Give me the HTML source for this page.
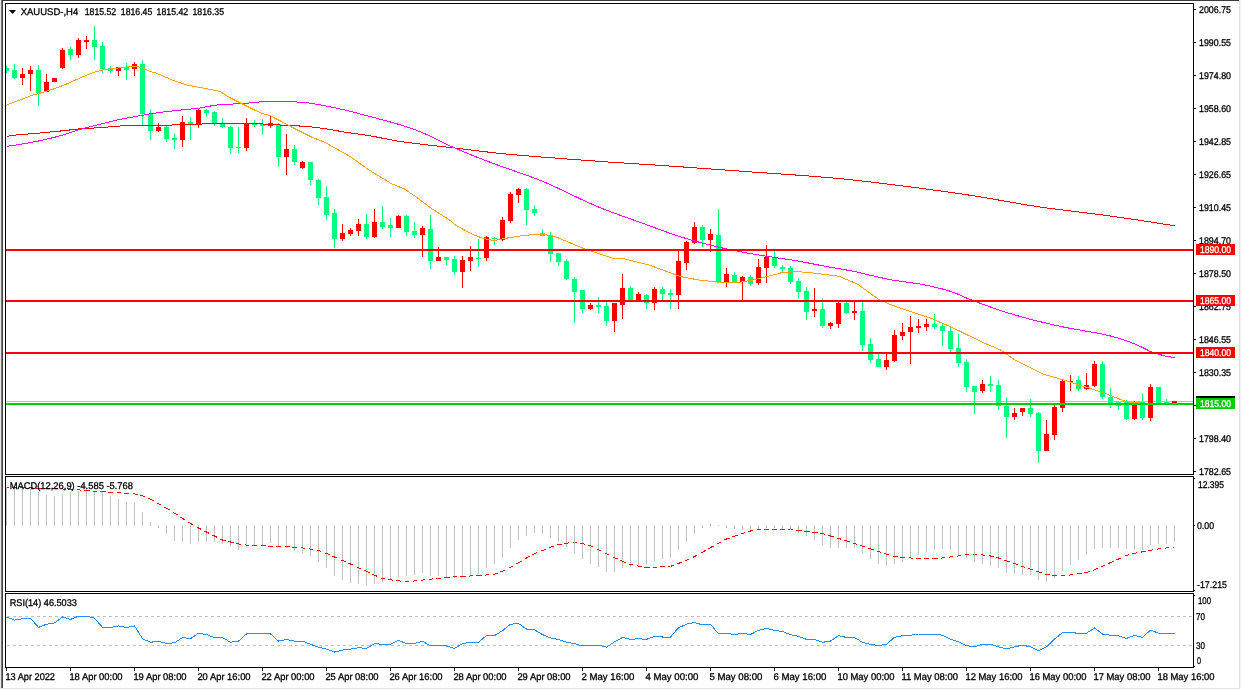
<!DOCTYPE html>
<html><head><meta charset="utf-8"><style>
html,body{margin:0;padding:0;background:#fff;width:1241px;height:689px;overflow:hidden}
svg{display:block;will-change:transform}
text{font-family:"Liberation Sans",sans-serif;text-rendering:geometricPrecision}
</style></head><body>
<svg width="1241" height="689" viewBox="0 0 1241 689">
<rect x="0" y="0" width="1241" height="689" fill="#FFFFFF"/>
<rect x="0" y="0" width="1241" height="1" fill="#3A3A3A"/>
<rect x="0" y="0" width="1" height="689" fill="#E6E6E6"/>
<rect x="1" y="0" width="1" height="688" fill="#7A7A7A"/>
<rect x="2" y="0" width="1" height="688" fill="#404040"/>
<rect x="0" y="688" width="1241" height="1" fill="#E3E3E3"/>
<rect x="1239" y="0" width="1" height="689" fill="#E0E0E0"/>
<rect x="1240" y="0" width="1" height="689" fill="#F2F2F2"/>
<g shape-rendering="crispEdges">
<clipPath id="cm"><rect x="6" y="4" width="1187" height="470"/></clipPath>
<clipPath id="cmacd"><rect x="6" y="477" width="1187" height="114"/></clipPath>
<clipPath id="crsi"><rect x="6" y="594" width="1187" height="73"/></clipPath>
<g clip-path="url(#cm)">
<rect x="6" y="401" width="1187" height="1" fill="#C0C0C0"/>
<rect x="6" y="66" width="1" height="7" fill="#00FF7F"/>
<rect x="4" y="68" width="5" height="3" fill="#00FF7F"/>
<rect x="14" y="64" width="1" height="15" fill="#00FF7F"/>
<rect x="12" y="70" width="5" height="8" fill="#00FF7F"/>
<rect x="22" y="68" width="1" height="17" fill="#FF0000"/>
<rect x="20" y="74" width="5" height="4" fill="#FF0000"/>
<rect x="30" y="66" width="1" height="25" fill="#FF0000"/>
<rect x="28" y="70" width="5" height="4" fill="#FF0000"/>
<rect x="38" y="65" width="1" height="41" fill="#00FF7F"/>
<rect x="36" y="70" width="5" height="23" fill="#00FF7F"/>
<rect x="46" y="74" width="1" height="18" fill="#FF0000"/>
<rect x="44" y="82" width="5" height="10" fill="#FF0000"/>
<rect x="54" y="78" width="1" height="4" fill="#FF0000"/>
<rect x="52" y="78" width="5" height="4" fill="#FF0000"/>
<rect x="62" y="48" width="1" height="21" fill="#FF0000"/>
<rect x="60" y="50" width="5" height="18" fill="#FF0000"/>
<rect x="70" y="47" width="1" height="13" fill="#00FF7F"/>
<rect x="68" y="49" width="5" height="6" fill="#00FF7F"/>
<rect x="78" y="38" width="1" height="20" fill="#FF0000"/>
<rect x="76" y="40" width="5" height="15" fill="#FF0000"/>
<rect x="86" y="36" width="1" height="13" fill="#FF0000"/>
<rect x="84" y="40" width="5" height="2" fill="#FF0000"/>
<rect x="94" y="26" width="1" height="34" fill="#00FF7F"/>
<rect x="92" y="40" width="5" height="7" fill="#00FF7F"/>
<rect x="102" y="42" width="1" height="31" fill="#00FF7F"/>
<rect x="100" y="46" width="5" height="23" fill="#00FF7F"/>
<rect x="110" y="66" width="1" height="7" fill="#00FF7F"/>
<rect x="108" y="68" width="5" height="3" fill="#00FF7F"/>
<rect x="118" y="67" width="1" height="9" fill="#FF0000"/>
<rect x="116" y="67" width="5" height="4" fill="#FF0000"/>
<rect x="126" y="63" width="1" height="17" fill="#00FF7F"/>
<rect x="124" y="67" width="5" height="3" fill="#00FF7F"/>
<rect x="134" y="62" width="1" height="14" fill="#FF0000"/>
<rect x="132" y="64" width="5" height="5" fill="#FF0000"/>
<rect x="142" y="60" width="1" height="65" fill="#00FF7F"/>
<rect x="140" y="64" width="5" height="50" fill="#00FF7F"/>
<rect x="150" y="109" width="1" height="31" fill="#00FF7F"/>
<rect x="148" y="114" width="5" height="17" fill="#00FF7F"/>
<rect x="158" y="123" width="1" height="9" fill="#FF0000"/>
<rect x="156" y="127" width="5" height="4" fill="#FF0000"/>
<rect x="166" y="126" width="1" height="16" fill="#00FF7F"/>
<rect x="164" y="127" width="5" height="12" fill="#00FF7F"/>
<rect x="174" y="133" width="1" height="16" fill="#00FF7F"/>
<rect x="172" y="138" width="5" height="2" fill="#00FF7F"/>
<rect x="182" y="116" width="1" height="31" fill="#FF0000"/>
<rect x="180" y="122" width="5" height="18" fill="#FF0000"/>
<rect x="190" y="117" width="1" height="23" fill="#00FF7F"/>
<rect x="188" y="122" width="5" height="2" fill="#00FF7F"/>
<rect x="198" y="108" width="1" height="20" fill="#FF0000"/>
<rect x="196" y="110" width="5" height="15" fill="#FF0000"/>
<rect x="206" y="109" width="1" height="8" fill="#00FF7F"/>
<rect x="204" y="110" width="5" height="3" fill="#00FF7F"/>
<rect x="214" y="111" width="1" height="15" fill="#00FF7F"/>
<rect x="212" y="112" width="5" height="11" fill="#00FF7F"/>
<rect x="222" y="118" width="1" height="10" fill="#00FF7F"/>
<rect x="220" y="123" width="5" height="4" fill="#00FF7F"/>
<rect x="230" y="126" width="1" height="28" fill="#00FF7F"/>
<rect x="228" y="127" width="5" height="21" fill="#00FF7F"/>
<rect x="238" y="127" width="1" height="26" fill="#00FF7F"/>
<rect x="236" y="147" width="5" height="1" fill="#00FF7F"/>
<rect x="246" y="118" width="1" height="33" fill="#FF0000"/>
<rect x="244" y="123" width="5" height="25" fill="#FF0000"/>
<rect x="254" y="120" width="1" height="7" fill="#00FF7F"/>
<rect x="252" y="123" width="5" height="2" fill="#00FF7F"/>
<rect x="262" y="119" width="1" height="16" fill="#00FF7F"/>
<rect x="260" y="124" width="5" height="2" fill="#00FF7F"/>
<rect x="270" y="116" width="1" height="12" fill="#FF0000"/>
<rect x="268" y="123" width="5" height="3" fill="#FF0000"/>
<rect x="278" y="123" width="1" height="44" fill="#00FF7F"/>
<rect x="276" y="124" width="5" height="33" fill="#00FF7F"/>
<rect x="286" y="134" width="1" height="41" fill="#FF0000"/>
<rect x="284" y="149" width="5" height="8" fill="#FF0000"/>
<rect x="294" y="145" width="1" height="20" fill="#00FF7F"/>
<rect x="292" y="149" width="5" height="13" fill="#00FF7F"/>
<rect x="302" y="161" width="1" height="8" fill="#FF0000"/>
<rect x="300" y="162" width="5" height="6" fill="#FF0000"/>
<rect x="310" y="162" width="1" height="23" fill="#00FF7F"/>
<rect x="308" y="162" width="5" height="18" fill="#00FF7F"/>
<rect x="318" y="179" width="1" height="26" fill="#00FF7F"/>
<rect x="316" y="180" width="5" height="18" fill="#00FF7F"/>
<rect x="326" y="186" width="1" height="34" fill="#00FF7F"/>
<rect x="324" y="197" width="5" height="18" fill="#00FF7F"/>
<rect x="334" y="209" width="1" height="39" fill="#00FF7F"/>
<rect x="332" y="213" width="5" height="26" fill="#00FF7F"/>
<rect x="342" y="224" width="1" height="17" fill="#FF0000"/>
<rect x="340" y="233" width="5" height="6" fill="#FF0000"/>
<rect x="350" y="228" width="1" height="8" fill="#FF0000"/>
<rect x="348" y="230" width="5" height="4" fill="#FF0000"/>
<rect x="358" y="219" width="1" height="17" fill="#FF0000"/>
<rect x="356" y="224" width="5" height="7" fill="#FF0000"/>
<rect x="366" y="214" width="1" height="25" fill="#00FF7F"/>
<rect x="364" y="224" width="5" height="13" fill="#00FF7F"/>
<rect x="374" y="209" width="1" height="29" fill="#FF0000"/>
<rect x="372" y="222" width="5" height="15" fill="#FF0000"/>
<rect x="382" y="206" width="1" height="23" fill="#00FF7F"/>
<rect x="380" y="222" width="5" height="5" fill="#00FF7F"/>
<rect x="390" y="218" width="1" height="19" fill="#00FF7F"/>
<rect x="388" y="225" width="5" height="3" fill="#00FF7F"/>
<rect x="398" y="215" width="1" height="13" fill="#FF0000"/>
<rect x="396" y="216" width="5" height="12" fill="#FF0000"/>
<rect x="406" y="215" width="1" height="21" fill="#00FF7F"/>
<rect x="404" y="216" width="5" height="16" fill="#00FF7F"/>
<rect x="414" y="222" width="1" height="16" fill="#00FF7F"/>
<rect x="412" y="231" width="5" height="4" fill="#00FF7F"/>
<rect x="422" y="226" width="1" height="31" fill="#FF0000"/>
<rect x="420" y="228" width="5" height="7" fill="#FF0000"/>
<rect x="430" y="215" width="1" height="54" fill="#00FF7F"/>
<rect x="428" y="229" width="5" height="32" fill="#00FF7F"/>
<rect x="438" y="247" width="1" height="14" fill="#FF0000"/>
<rect x="436" y="257" width="5" height="4" fill="#FF0000"/>
<rect x="446" y="257" width="1" height="8" fill="#00FF7F"/>
<rect x="444" y="257" width="5" height="3" fill="#00FF7F"/>
<rect x="454" y="256" width="1" height="19" fill="#00FF7F"/>
<rect x="452" y="259" width="5" height="13" fill="#00FF7F"/>
<rect x="462" y="256" width="1" height="32" fill="#FF0000"/>
<rect x="460" y="260" width="5" height="12" fill="#FF0000"/>
<rect x="470" y="246" width="1" height="25" fill="#FF0000"/>
<rect x="468" y="257" width="5" height="4" fill="#FF0000"/>
<rect x="478" y="239" width="1" height="28" fill="#00FF7F"/>
<rect x="476" y="258" width="5" height="1" fill="#00FF7F"/>
<rect x="486" y="236" width="1" height="25" fill="#FF0000"/>
<rect x="484" y="237" width="5" height="21" fill="#FF0000"/>
<rect x="494" y="237" width="1" height="8" fill="#00FF7F"/>
<rect x="492" y="238" width="5" height="1" fill="#00FF7F"/>
<rect x="502" y="217" width="1" height="24" fill="#FF0000"/>
<rect x="500" y="220" width="5" height="20" fill="#FF0000"/>
<rect x="510" y="192" width="1" height="31" fill="#FF0000"/>
<rect x="508" y="194" width="5" height="27" fill="#FF0000"/>
<rect x="518" y="188" width="1" height="15" fill="#FF0000"/>
<rect x="516" y="189" width="5" height="6" fill="#FF0000"/>
<rect x="526" y="188" width="1" height="37" fill="#00FF7F"/>
<rect x="524" y="189" width="5" height="21" fill="#00FF7F"/>
<rect x="534" y="205" width="1" height="11" fill="#00FF7F"/>
<rect x="532" y="209" width="5" height="4" fill="#00FF7F"/>
<rect x="542" y="229" width="1" height="7" fill="#00FF7F"/>
<rect x="540" y="233" width="5" height="3" fill="#00FF7F"/>
<rect x="550" y="232" width="1" height="30" fill="#00FF7F"/>
<rect x="548" y="235" width="5" height="19" fill="#00FF7F"/>
<rect x="558" y="253" width="1" height="13" fill="#00FF7F"/>
<rect x="556" y="253" width="5" height="9" fill="#00FF7F"/>
<rect x="566" y="259" width="1" height="21" fill="#00FF7F"/>
<rect x="564" y="261" width="5" height="18" fill="#00FF7F"/>
<rect x="574" y="277" width="1" height="46" fill="#00FF7F"/>
<rect x="572" y="279" width="5" height="13" fill="#00FF7F"/>
<rect x="582" y="290" width="1" height="23" fill="#00FF7F"/>
<rect x="580" y="290" width="5" height="19" fill="#00FF7F"/>
<rect x="590" y="303" width="1" height="7" fill="#FF0000"/>
<rect x="588" y="305" width="5" height="4" fill="#FF0000"/>
<rect x="598" y="297" width="1" height="16" fill="#00FF7F"/>
<rect x="596" y="305" width="5" height="2" fill="#00FF7F"/>
<rect x="606" y="302" width="1" height="24" fill="#00FF7F"/>
<rect x="604" y="306" width="5" height="15" fill="#00FF7F"/>
<rect x="614" y="303" width="1" height="29" fill="#FF0000"/>
<rect x="612" y="303" width="5" height="18" fill="#FF0000"/>
<rect x="622" y="274" width="1" height="45" fill="#FF0000"/>
<rect x="620" y="288" width="5" height="17" fill="#FF0000"/>
<rect x="630" y="286" width="1" height="14" fill="#00FF7F"/>
<rect x="628" y="288" width="5" height="12" fill="#00FF7F"/>
<rect x="638" y="292" width="1" height="9" fill="#FF0000"/>
<rect x="636" y="294" width="5" height="6" fill="#FF0000"/>
<rect x="646" y="294" width="1" height="15" fill="#00FF7F"/>
<rect x="644" y="295" width="5" height="8" fill="#00FF7F"/>
<rect x="654" y="287" width="1" height="23" fill="#FF0000"/>
<rect x="652" y="289" width="5" height="14" fill="#FF0000"/>
<rect x="662" y="287" width="1" height="13" fill="#00FF7F"/>
<rect x="660" y="289" width="5" height="5" fill="#00FF7F"/>
<rect x="670" y="289" width="1" height="20" fill="#00FF7F"/>
<rect x="668" y="293" width="5" height="2" fill="#00FF7F"/>
<rect x="678" y="251" width="1" height="58" fill="#FF0000"/>
<rect x="676" y="261" width="5" height="34" fill="#FF0000"/>
<rect x="686" y="241" width="1" height="29" fill="#FF0000"/>
<rect x="684" y="242" width="5" height="21" fill="#FF0000"/>
<rect x="694" y="222" width="1" height="22" fill="#FF0000"/>
<rect x="692" y="227" width="5" height="16" fill="#FF0000"/>
<rect x="702" y="225" width="1" height="22" fill="#00FF7F"/>
<rect x="700" y="227" width="5" height="13" fill="#00FF7F"/>
<rect x="710" y="229" width="1" height="23" fill="#FF0000"/>
<rect x="708" y="234" width="5" height="6" fill="#FF0000"/>
<rect x="718" y="209" width="1" height="73" fill="#00FF7F"/>
<rect x="716" y="235" width="5" height="47" fill="#00FF7F"/>
<rect x="726" y="268" width="1" height="19" fill="#FF0000"/>
<rect x="724" y="274" width="5" height="9" fill="#FF0000"/>
<rect x="734" y="272" width="1" height="11" fill="#00FF7F"/>
<rect x="732" y="275" width="5" height="8" fill="#00FF7F"/>
<rect x="742" y="276" width="1" height="24" fill="#FF0000"/>
<rect x="740" y="277" width="5" height="5" fill="#FF0000"/>
<rect x="750" y="275" width="1" height="11" fill="#00FF7F"/>
<rect x="748" y="277" width="5" height="7" fill="#00FF7F"/>
<rect x="758" y="259" width="1" height="26" fill="#FF0000"/>
<rect x="756" y="267" width="5" height="16" fill="#FF0000"/>
<rect x="766" y="245" width="1" height="38" fill="#FF0000"/>
<rect x="764" y="257" width="5" height="11" fill="#FF0000"/>
<rect x="774" y="251" width="1" height="17" fill="#00FF7F"/>
<rect x="772" y="257" width="5" height="9" fill="#00FF7F"/>
<rect x="782" y="265" width="1" height="7" fill="#00FF7F"/>
<rect x="780" y="267" width="5" height="2" fill="#00FF7F"/>
<rect x="790" y="266" width="1" height="18" fill="#00FF7F"/>
<rect x="788" y="268" width="5" height="14" fill="#00FF7F"/>
<rect x="798" y="278" width="1" height="21" fill="#00FF7F"/>
<rect x="796" y="281" width="5" height="11" fill="#00FF7F"/>
<rect x="806" y="287" width="1" height="33" fill="#00FF7F"/>
<rect x="804" y="291" width="5" height="21" fill="#00FF7F"/>
<rect x="814" y="288" width="1" height="29" fill="#FF0000"/>
<rect x="812" y="309" width="5" height="2" fill="#FF0000"/>
<rect x="822" y="299" width="1" height="29" fill="#00FF7F"/>
<rect x="820" y="309" width="5" height="17" fill="#00FF7F"/>
<rect x="830" y="322" width="1" height="7" fill="#FF0000"/>
<rect x="828" y="323" width="5" height="3" fill="#FF0000"/>
<rect x="838" y="302" width="1" height="26" fill="#FF0000"/>
<rect x="836" y="303" width="5" height="21" fill="#FF0000"/>
<rect x="846" y="302" width="1" height="12" fill="#00FF7F"/>
<rect x="844" y="303" width="5" height="10" fill="#00FF7F"/>
<rect x="854" y="301" width="1" height="19" fill="#FF0000"/>
<rect x="852" y="311" width="5" height="2" fill="#FF0000"/>
<rect x="862" y="302" width="1" height="49" fill="#00FF7F"/>
<rect x="860" y="311" width="5" height="34" fill="#00FF7F"/>
<rect x="870" y="338" width="1" height="25" fill="#00FF7F"/>
<rect x="868" y="344" width="5" height="16" fill="#00FF7F"/>
<rect x="878" y="354" width="1" height="13" fill="#00FF7F"/>
<rect x="876" y="359" width="5" height="8" fill="#00FF7F"/>
<rect x="886" y="354" width="1" height="16" fill="#FF0000"/>
<rect x="884" y="360" width="5" height="7" fill="#FF0000"/>
<rect x="894" y="330" width="1" height="32" fill="#FF0000"/>
<rect x="892" y="335" width="5" height="26" fill="#FF0000"/>
<rect x="902" y="323" width="1" height="17" fill="#FF0000"/>
<rect x="900" y="332" width="5" height="4" fill="#FF0000"/>
<rect x="910" y="316" width="1" height="48" fill="#FF0000"/>
<rect x="908" y="327" width="5" height="5" fill="#FF0000"/>
<rect x="918" y="319" width="1" height="14" fill="#FF0000"/>
<rect x="916" y="326" width="5" height="2" fill="#FF0000"/>
<rect x="926" y="319" width="1" height="12" fill="#FF0000"/>
<rect x="924" y="324" width="5" height="3" fill="#FF0000"/>
<rect x="934" y="314" width="1" height="15" fill="#00FF7F"/>
<rect x="932" y="324" width="5" height="3" fill="#00FF7F"/>
<rect x="942" y="324" width="1" height="22" fill="#00FF7F"/>
<rect x="940" y="326" width="5" height="5" fill="#00FF7F"/>
<rect x="950" y="327" width="1" height="25" fill="#00FF7F"/>
<rect x="948" y="331" width="5" height="18" fill="#00FF7F"/>
<rect x="958" y="334" width="1" height="33" fill="#00FF7F"/>
<rect x="956" y="348" width="5" height="15" fill="#00FF7F"/>
<rect x="966" y="359" width="1" height="33" fill="#00FF7F"/>
<rect x="964" y="362" width="5" height="25" fill="#00FF7F"/>
<rect x="974" y="386" width="1" height="28" fill="#00FF7F"/>
<rect x="972" y="386" width="5" height="6" fill="#00FF7F"/>
<rect x="982" y="380" width="1" height="13" fill="#FF0000"/>
<rect x="980" y="384" width="5" height="7" fill="#FF0000"/>
<rect x="990" y="376" width="1" height="16" fill="#00FF7F"/>
<rect x="988" y="384" width="5" height="2" fill="#00FF7F"/>
<rect x="998" y="380" width="1" height="30" fill="#00FF7F"/>
<rect x="996" y="385" width="5" height="21" fill="#00FF7F"/>
<rect x="1006" y="397" width="1" height="41" fill="#00FF7F"/>
<rect x="1004" y="406" width="5" height="11" fill="#00FF7F"/>
<rect x="1014" y="408" width="1" height="12" fill="#FF0000"/>
<rect x="1012" y="413" width="5" height="4" fill="#FF0000"/>
<rect x="1022" y="408" width="1" height="8" fill="#FF0000"/>
<rect x="1020" y="408" width="5" height="4" fill="#FF0000"/>
<rect x="1030" y="399" width="1" height="18" fill="#00FF7F"/>
<rect x="1028" y="408" width="5" height="6" fill="#00FF7F"/>
<rect x="1038" y="412" width="1" height="51" fill="#00FF7F"/>
<rect x="1036" y="413" width="5" height="38" fill="#00FF7F"/>
<rect x="1046" y="420" width="1" height="31" fill="#FF0000"/>
<rect x="1044" y="434" width="5" height="17" fill="#FF0000"/>
<rect x="1054" y="405" width="1" height="35" fill="#FF0000"/>
<rect x="1052" y="407" width="5" height="28" fill="#FF0000"/>
<rect x="1062" y="380" width="1" height="32" fill="#FF0000"/>
<rect x="1060" y="381" width="5" height="27" fill="#FF0000"/>
<rect x="1070" y="375" width="1" height="16" fill="#FF0000"/>
<rect x="1068" y="381" width="5" height="1" fill="#FF0000"/>
<rect x="1078" y="376" width="1" height="15" fill="#00FF7F"/>
<rect x="1076" y="380" width="5" height="9" fill="#00FF7F"/>
<rect x="1086" y="373" width="1" height="17" fill="#FF0000"/>
<rect x="1084" y="385" width="5" height="4" fill="#FF0000"/>
<rect x="1094" y="361" width="1" height="26" fill="#FF0000"/>
<rect x="1092" y="364" width="5" height="22" fill="#FF0000"/>
<rect x="1102" y="361" width="1" height="38" fill="#00FF7F"/>
<rect x="1100" y="364" width="5" height="33" fill="#00FF7F"/>
<rect x="1110" y="388" width="1" height="20" fill="#00FF7F"/>
<rect x="1108" y="397" width="5" height="6" fill="#00FF7F"/>
<rect x="1118" y="402" width="1" height="8" fill="#00FF7F"/>
<rect x="1116" y="402" width="5" height="4" fill="#00FF7F"/>
<rect x="1126" y="400" width="1" height="20" fill="#00FF7F"/>
<rect x="1124" y="402" width="5" height="17" fill="#00FF7F"/>
<rect x="1134" y="401" width="1" height="19" fill="#FF0000"/>
<rect x="1132" y="402" width="5" height="17" fill="#FF0000"/>
<rect x="1142" y="393" width="1" height="27" fill="#00FF7F"/>
<rect x="1140" y="402" width="5" height="16" fill="#00FF7F"/>
<rect x="1150" y="384" width="1" height="37" fill="#FF0000"/>
<rect x="1148" y="387" width="5" height="31" fill="#FF0000"/>
<rect x="1158" y="387" width="1" height="16" fill="#00FF7F"/>
<rect x="1156" y="387" width="5" height="16" fill="#00FF7F"/>
<rect x="1166" y="399" width="1" height="4" fill="#00FF7F"/>
<rect x="1164" y="402" width="5" height="1" fill="#00FF7F"/>
<rect x="1174" y="401" width="1" height="2" fill="#FF0000"/>
<rect x="1172" y="401" width="5" height="2" fill="#FF0000"/>
</g>
<g clip-path="url(#cm)">
<polyline points="6.5,136.3 14.5,135.2 22.5,134.4 30.5,133.8 38.5,133.1 46.5,132.4 54.5,131.6 62.5,130.8 70.5,129.9 78.5,129.0 86.5,128.4 94.5,128.0 102.5,127.5 110.5,126.8 118.5,126.1 126.5,125.6 134.5,125.5 142.5,125.4 150.5,125.4 158.5,125.3 166.5,125.2 174.5,124.9 182.5,124.6 190.5,124.3 198.5,124.1 206.5,123.9 214.5,123.7 222.5,123.5 230.5,123.5 238.5,123.5 246.5,123.6 254.5,123.8 262.5,124.0 270.5,124.5 278.5,124.9 286.5,125.4 294.5,125.7 302.5,126.2 310.5,126.8 318.5,127.8 326.5,129.0 334.5,130.3 342.5,131.7 350.5,133.0 358.5,134.1 366.5,135.3 374.5,136.6 382.5,138.2 390.5,139.7 398.5,141.2 406.5,142.3 414.5,143.4 422.5,144.3 430.5,145.3 438.5,146.2 446.5,147.1 454.5,148.0 462.5,148.9 470.5,149.9 478.5,150.9 486.5,151.9 494.5,152.8 502.5,153.7 510.5,154.4 518.5,155.1 526.5,155.8 534.5,156.5 542.5,157.1 550.5,157.7 558.5,158.3 566.5,159.0 574.5,159.6 582.5,160.1 590.5,160.7 598.5,161.3 606.5,161.9 614.5,162.4 622.5,162.9 630.5,163.5 638.5,164.0 646.5,164.5 654.5,165.0 662.5,165.6 670.5,166.1 678.5,166.7 686.5,167.2 694.5,167.8 702.5,168.4 710.5,169.0 718.5,169.5 726.5,170.1 734.5,170.7 742.5,171.3 750.5,171.9 758.5,172.5 766.5,173.0 774.5,173.6 782.5,174.1 790.5,174.7 798.5,175.2 806.5,175.8 814.5,176.4 822.5,177.1 830.5,177.8 838.5,178.5 846.5,179.3 854.5,180.2 862.5,181.1 870.5,182.0 878.5,183.0 886.5,184.0 894.5,185.0 902.5,186.0 910.5,187.0 918.5,188.0 926.5,189.1 934.5,190.2 942.5,191.2 950.5,192.4 958.5,193.5 966.5,194.7 974.5,195.9 982.5,197.2 990.5,198.6 998.5,200.0 1006.5,201.4 1014.5,202.8 1022.5,204.2 1030.5,205.5 1038.5,206.8 1046.5,207.9 1054.5,209.0 1062.5,210.0 1070.5,211.0 1078.5,212.0 1086.5,213.0 1094.5,214.0 1102.5,215.0 1110.5,216.1 1118.5,217.2 1126.5,218.4 1134.5,219.5 1142.5,220.7 1150.5,222.0 1158.5,223.2 1166.5,224.5 1174.5,225.8" fill="none" stroke="#FF0000" stroke-width="1" />
<polyline points="6.5,146.4 14.5,145.2 22.5,143.9 30.5,142.5 38.5,141.0 46.5,139.2 54.5,137.3 62.5,135.1 70.5,132.4 78.5,129.9 86.5,127.6 94.5,125.7 102.5,123.7 110.5,121.6 118.5,119.6 126.5,118.1 134.5,116.7 142.5,115.2 150.5,113.8 158.5,112.6 166.5,111.6 174.5,110.7 182.5,109.9 190.5,109.1 198.5,108.2 206.5,106.8 214.5,105.2 222.5,104.5 230.5,104.1 238.5,103.8 246.5,103.3 254.5,102.4 262.5,101.7 270.5,101.6 278.5,101.6 286.5,101.7 294.5,101.9 302.5,102.2 310.5,103.2 318.5,104.6 326.5,106.1 334.5,107.7 342.5,109.5 350.5,111.4 358.5,113.5 366.5,115.6 374.5,117.7 382.5,119.9 390.5,122.0 398.5,124.3 406.5,126.8 414.5,129.5 422.5,132.6 430.5,136.3 438.5,140.3 446.5,144.2 454.5,147.9 462.5,151.3 470.5,154.6 478.5,157.8 486.5,160.9 494.5,163.9 502.5,166.8 510.5,169.6 518.5,172.4 526.5,175.2 534.5,178.1 542.5,181.3 550.5,184.8 558.5,188.5 566.5,192.3 574.5,196.1 582.5,199.9 590.5,203.6 598.5,207.0 606.5,210.2 614.5,213.2 622.5,216.1 630.5,218.9 638.5,221.8 646.5,224.7 654.5,227.6 662.5,230.6 670.5,233.4 678.5,236.2 686.5,238.6 694.5,240.9 702.5,243.1 710.5,245.2 718.5,247.1 726.5,248.9 734.5,250.6 742.5,252.1 750.5,253.6 758.5,254.9 766.5,256.2 774.5,257.4 782.5,258.7 790.5,259.8 798.5,261.1 806.5,262.6 814.5,264.2 822.5,265.8 830.5,267.2 838.5,268.5 846.5,270.0 854.5,271.5 862.5,273.4 870.5,275.3 878.5,277.1 886.5,278.9 894.5,280.4 902.5,281.5 910.5,282.6 918.5,283.8 926.5,285.3 934.5,287.1 942.5,289.0 950.5,291.3 958.5,294.4 966.5,298.0 974.5,301.1 982.5,304.1 990.5,307.0 998.5,309.8 1006.5,312.4 1014.5,314.9 1022.5,317.1 1030.5,319.3 1038.5,321.3 1046.5,323.2 1054.5,325.1 1062.5,326.8 1070.5,328.4 1078.5,329.8 1086.5,331.2 1094.5,332.6 1102.5,334.1 1110.5,336.0 1118.5,338.2 1126.5,340.8 1134.5,343.8 1142.5,347.5 1150.5,351.6 1158.5,354.2 1166.5,356.4 1174.5,357.6" fill="none" stroke="#FF00FF" stroke-width="1" />
<polyline points="6.0,105.3 16.0,101.3 23.9,98.5 31.9,95.3 38.3,93.7 46.5,91.2 54.9,88.6 66.6,84.0 81.0,77.5 94.0,72.3 104.5,69.7 115.0,68.3 126.7,67.0 135.9,66.4 142.4,67.7 150.0,71.6 156.0,73.0 173.0,80.3 188.8,85.5 203.0,88.0 220.0,91.4 229.0,97.2 242.0,103.8 260.7,113.0 269.8,115.5 280.0,120.8 291.5,127.0 311.0,136.8 324.0,142.0 350.0,156.4 369.0,170.0 391.5,183.7 404.5,189.0 417.6,198.0 430.7,208.0 450.0,220.3 456.0,225.5 473.0,234.6 483.6,238.5 494.0,240.5 504.5,238.5 524.0,235.3 543.7,234.2 556.0,237.0 585.0,249.0 613.6,258.5 624.0,258.7 647.6,264.6 660.7,269.2 680.0,276.4 698.7,280.0 717.0,282.0 735.0,283.0 751.0,280.4 768.0,276.4 782.4,272.5 798.0,271.6 813.0,273.0 839.0,276.3 857.6,284.2 878.5,299.2 890.0,304.4 908.8,311.0 931.0,318.3 952.0,327.4 983.0,342.5 1000.0,349.7 1015.0,360.0 1044.0,374.4 1063.7,380.0 1080.7,385.5 1102.0,392.2 1126.0,401.5 1131.0,402.3 1138.8,402.3 1141.0,403.6 1174.0,403.6" fill="none" stroke="#FFA500" stroke-width="1" />
<rect x="6" y="249" width="1188" height="2" fill="#FF0000"/>
<rect x="6" y="300" width="1188" height="2" fill="#FF0000"/>
<rect x="6" y="352" width="1188" height="2" fill="#FF0000"/>
<rect x="6" y="403" width="1188" height="2" fill="#00D000"/>
</g>
<rect x="5" y="3" width="1189" height="1" fill="#000"/>
<rect x="5" y="474" width="1189" height="1" fill="#000"/>
<rect x="5" y="3" width="1" height="472" fill="#000"/>
<rect x="1193" y="3" width="1" height="472" fill="#000"/>
<rect x="5" y="476" width="1189" height="1" fill="#000"/>
<rect x="5" y="591" width="1189" height="1" fill="#000"/>
<rect x="5" y="476" width="1" height="116" fill="#000"/>
<rect x="1193" y="476" width="1" height="116" fill="#000"/>
<rect x="5" y="593" width="1189" height="1" fill="#000"/>
<rect x="5" y="667" width="1189" height="1" fill="#000"/>
<rect x="5" y="593" width="1" height="75" fill="#000"/>
<rect x="1193" y="593" width="1" height="75" fill="#000"/>
<rect x="1194" y="9" width="2" height="1" fill="#000"/>
<rect x="1194" y="42" width="2" height="1" fill="#000"/>
<rect x="1194" y="75" width="2" height="1" fill="#000"/>
<rect x="1194" y="108" width="2" height="1" fill="#000"/>
<rect x="1194" y="141" width="2" height="1" fill="#000"/>
<rect x="1194" y="174" width="2" height="1" fill="#000"/>
<rect x="1194" y="207" width="2" height="1" fill="#000"/>
<rect x="1194" y="240" width="2" height="1" fill="#000"/>
<rect x="1194" y="273" width="2" height="1" fill="#000"/>
<rect x="1194" y="306" width="2" height="1" fill="#000"/>
<rect x="1194" y="339" width="2" height="1" fill="#000"/>
<rect x="1194" y="372" width="2" height="1" fill="#000"/>
<rect x="1194" y="405" width="2" height="1" fill="#000"/>
<rect x="1194" y="438" width="2" height="1" fill="#000"/>
<rect x="1194" y="471" width="2" height="1" fill="#000"/>
</g>
<g font-family="Liberation Sans, sans-serif">
<text x="1199" y="13.05" textLength="32.0" lengthAdjust="spacingAndGlyphs" fill="#000" stroke="#000" stroke-width="0.3" font-size="9.75">2006.75</text>
<text x="1199" y="46.05" textLength="32.0" lengthAdjust="spacingAndGlyphs" fill="#000" stroke="#000" stroke-width="0.3" font-size="9.75">1990.55</text>
<text x="1199" y="79.05" textLength="32.0" lengthAdjust="spacingAndGlyphs" fill="#000" stroke="#000" stroke-width="0.3" font-size="9.75">1974.80</text>
<text x="1199" y="112.05" textLength="32.0" lengthAdjust="spacingAndGlyphs" fill="#000" stroke="#000" stroke-width="0.3" font-size="9.75">1958.60</text>
<text x="1199" y="145.05" textLength="32.0" lengthAdjust="spacingAndGlyphs" fill="#000" stroke="#000" stroke-width="0.3" font-size="9.75">1942.85</text>
<text x="1199" y="178.05" textLength="32.0" lengthAdjust="spacingAndGlyphs" fill="#000" stroke="#000" stroke-width="0.3" font-size="9.75">1926.65</text>
<text x="1199" y="211.05" textLength="32.0" lengthAdjust="spacingAndGlyphs" fill="#000" stroke="#000" stroke-width="0.3" font-size="9.75">1910.45</text>
<text x="1199" y="244.05" textLength="32.0" lengthAdjust="spacingAndGlyphs" fill="#000" stroke="#000" stroke-width="0.3" font-size="9.75">1894.70</text>
<text x="1199" y="277.05" textLength="32.0" lengthAdjust="spacingAndGlyphs" fill="#000" stroke="#000" stroke-width="0.3" font-size="9.75">1878.50</text>
<text x="1199" y="310.05" textLength="32.0" lengthAdjust="spacingAndGlyphs" fill="#000" stroke="#000" stroke-width="0.3" font-size="9.75">1862.75</text>
<text x="1199" y="343.05" textLength="32.0" lengthAdjust="spacingAndGlyphs" fill="#000" stroke="#000" stroke-width="0.3" font-size="9.75">1846.55</text>
<text x="1199" y="376.05" textLength="32.0" lengthAdjust="spacingAndGlyphs" fill="#000" stroke="#000" stroke-width="0.3" font-size="9.75">1830.35</text>
<text x="1199" y="442.05" textLength="32.0" lengthAdjust="spacingAndGlyphs" fill="#000" stroke="#000" stroke-width="0.3" font-size="9.75">1798.40</text>
<text x="1199" y="475.05" textLength="32.0" lengthAdjust="spacingAndGlyphs" fill="#000" stroke="#000" stroke-width="0.3" font-size="9.75">1782.65</text>
<rect x="1196" y="244" width="39" height="11" fill="#FF0000" shape-rendering="crispEdges"/>
<text x="1200" y="253.05" textLength="31.0" lengthAdjust="spacingAndGlyphs" fill="#FFF" stroke="#FFF" stroke-width="0.3" font-size="9.75">1890.00</text>
<rect x="1196" y="295" width="39" height="11" fill="#FF0000" shape-rendering="crispEdges"/>
<text x="1200" y="304.05" textLength="31.0" lengthAdjust="spacingAndGlyphs" fill="#FFF" stroke="#FFF" stroke-width="0.3" font-size="9.75">1865.00</text>
<rect x="1196" y="347" width="39" height="11" fill="#FF0000" shape-rendering="crispEdges"/>
<text x="1200" y="356.05" textLength="31.0" lengthAdjust="spacingAndGlyphs" fill="#FFF" stroke="#FFF" stroke-width="0.3" font-size="9.75">1840.00</text>
<rect x="1196" y="396" width="39" height="11" fill="#000" shape-rendering="crispEdges"/>
<rect x="1196" y="398" width="39" height="11" fill="#00D000" shape-rendering="crispEdges"/>
<text x="1200" y="407.05" textLength="31.0" lengthAdjust="spacingAndGlyphs" fill="#FFF" stroke="#FFF" stroke-width="0.3" font-size="9.75">1815.00</text>
<polygon points="9,10 16,10 12.5,14" fill="#000"/>
<text x="20.7" y="15.05" textLength="57.5" lengthAdjust="spacingAndGlyphs" fill="#000" stroke="#000" stroke-width="0.3" font-size="9.75">XAUUSD-,H4</text>
<text x="84.7" y="15.05" textLength="31.5" lengthAdjust="spacingAndGlyphs" fill="#000" stroke="#000" stroke-width="0.3" font-size="9.75">1815.52</text>
<text x="120.8" y="15.05" textLength="31.5" lengthAdjust="spacingAndGlyphs" fill="#000" stroke="#000" stroke-width="0.3" font-size="9.75">1816.45</text>
<text x="156.6" y="15.05" textLength="31.5" lengthAdjust="spacingAndGlyphs" fill="#000" stroke="#000" stroke-width="0.3" font-size="9.75">1815.42</text>
<text x="192.5" y="15.05" textLength="31.5" lengthAdjust="spacingAndGlyphs" fill="#000" stroke="#000" stroke-width="0.3" font-size="9.75">1816.35</text>
</g>
<g clip-path="url(#cmacd)" shape-rendering="crispEdges">
<rect x="6" y="487" width="1" height="39" fill="#C0C0C0"/>
<rect x="14" y="488" width="1" height="38" fill="#C0C0C0"/>
<rect x="22" y="488" width="1" height="38" fill="#C0C0C0"/>
<rect x="30" y="489" width="1" height="37" fill="#C0C0C0"/>
<rect x="38" y="492" width="1" height="34" fill="#C0C0C0"/>
<rect x="46" y="495" width="1" height="31" fill="#C0C0C0"/>
<rect x="54" y="496" width="1" height="30" fill="#C0C0C0"/>
<rect x="62" y="494" width="1" height="32" fill="#C0C0C0"/>
<rect x="70" y="492" width="1" height="34" fill="#C0C0C0"/>
<rect x="78" y="491" width="1" height="35" fill="#C0C0C0"/>
<rect x="86" y="489" width="1" height="37" fill="#C0C0C0"/>
<rect x="94" y="491" width="1" height="35" fill="#C0C0C0"/>
<rect x="102" y="492" width="1" height="34" fill="#C0C0C0"/>
<rect x="110" y="496" width="1" height="30" fill="#C0C0C0"/>
<rect x="118" y="499" width="1" height="27" fill="#C0C0C0"/>
<rect x="126" y="502" width="1" height="24" fill="#C0C0C0"/>
<rect x="134" y="503" width="1" height="23" fill="#C0C0C0"/>
<rect x="142" y="512" width="1" height="14" fill="#C0C0C0"/>
<rect x="150" y="522" width="1" height="4" fill="#C0C0C0"/>
<rect x="158" y="525" width="1" height="3" fill="#C0C0C0"/>
<rect x="166" y="525" width="1" height="9" fill="#C0C0C0"/>
<rect x="174" y="525" width="1" height="16" fill="#C0C0C0"/>
<rect x="182" y="525" width="1" height="17" fill="#C0C0C0"/>
<rect x="190" y="525" width="1" height="19" fill="#C0C0C0"/>
<rect x="198" y="525" width="1" height="17" fill="#C0C0C0"/>
<rect x="206" y="525" width="1" height="17" fill="#C0C0C0"/>
<rect x="214" y="525" width="1" height="17" fill="#C0C0C0"/>
<rect x="222" y="525" width="1" height="19" fill="#C0C0C0"/>
<rect x="230" y="525" width="1" height="22" fill="#C0C0C0"/>
<rect x="238" y="525" width="1" height="25" fill="#C0C0C0"/>
<rect x="246" y="525" width="1" height="23" fill="#C0C0C0"/>
<rect x="254" y="525" width="1" height="21" fill="#C0C0C0"/>
<rect x="262" y="525" width="1" height="20" fill="#C0C0C0"/>
<rect x="270" y="525" width="1" height="18" fill="#C0C0C0"/>
<rect x="278" y="525" width="1" height="21" fill="#C0C0C0"/>
<rect x="286" y="525" width="1" height="23" fill="#C0C0C0"/>
<rect x="294" y="525" width="1" height="26" fill="#C0C0C0"/>
<rect x="302" y="525" width="1" height="28" fill="#C0C0C0"/>
<rect x="310" y="525" width="1" height="31" fill="#C0C0C0"/>
<rect x="318" y="525" width="1" height="37" fill="#C0C0C0"/>
<rect x="326" y="525" width="1" height="43" fill="#C0C0C0"/>
<rect x="334" y="525" width="1" height="51" fill="#C0C0C0"/>
<rect x="342" y="525" width="1" height="55" fill="#C0C0C0"/>
<rect x="350" y="525" width="1" height="58" fill="#C0C0C0"/>
<rect x="358" y="525" width="1" height="59" fill="#C0C0C0"/>
<rect x="366" y="525" width="1" height="60" fill="#C0C0C0"/>
<rect x="374" y="525" width="1" height="59" fill="#C0C0C0"/>
<rect x="382" y="525" width="1" height="57" fill="#C0C0C0"/>
<rect x="390" y="525" width="1" height="55" fill="#C0C0C0"/>
<rect x="398" y="525" width="1" height="52" fill="#C0C0C0"/>
<rect x="406" y="525" width="1" height="51" fill="#C0C0C0"/>
<rect x="414" y="525" width="1" height="50" fill="#C0C0C0"/>
<rect x="422" y="525" width="1" height="48" fill="#C0C0C0"/>
<rect x="430" y="525" width="1" height="51" fill="#C0C0C0"/>
<rect x="438" y="525" width="1" height="51" fill="#C0C0C0"/>
<rect x="446" y="525" width="1" height="53" fill="#C0C0C0"/>
<rect x="454" y="525" width="1" height="53" fill="#C0C0C0"/>
<rect x="462" y="525" width="1" height="52" fill="#C0C0C0"/>
<rect x="470" y="525" width="1" height="51" fill="#C0C0C0"/>
<rect x="478" y="525" width="1" height="49" fill="#C0C0C0"/>
<rect x="486" y="525" width="1" height="43" fill="#C0C0C0"/>
<rect x="494" y="525" width="1" height="39" fill="#C0C0C0"/>
<rect x="502" y="525" width="1" height="33" fill="#C0C0C0"/>
<rect x="510" y="525" width="1" height="23" fill="#C0C0C0"/>
<rect x="518" y="525" width="1" height="15" fill="#C0C0C0"/>
<rect x="526" y="525" width="1" height="11" fill="#C0C0C0"/>
<rect x="534" y="525" width="1" height="8" fill="#C0C0C0"/>
<rect x="542" y="525" width="1" height="9" fill="#C0C0C0"/>
<rect x="550" y="525" width="1" height="13" fill="#C0C0C0"/>
<rect x="558" y="525" width="1" height="17" fill="#C0C0C0"/>
<rect x="566" y="525" width="1" height="22" fill="#C0C0C0"/>
<rect x="574" y="525" width="1" height="28" fill="#C0C0C0"/>
<rect x="582" y="525" width="1" height="34" fill="#C0C0C0"/>
<rect x="590" y="525" width="1" height="39" fill="#C0C0C0"/>
<rect x="598" y="525" width="1" height="42" fill="#C0C0C0"/>
<rect x="606" y="525" width="1" height="47" fill="#C0C0C0"/>
<rect x="614" y="525" width="1" height="47" fill="#C0C0C0"/>
<rect x="622" y="525" width="1" height="43" fill="#C0C0C0"/>
<rect x="630" y="525" width="1" height="42" fill="#C0C0C0"/>
<rect x="638" y="525" width="1" height="41" fill="#C0C0C0"/>
<rect x="646" y="525" width="1" height="39" fill="#C0C0C0"/>
<rect x="654" y="525" width="1" height="37" fill="#C0C0C0"/>
<rect x="662" y="525" width="1" height="34" fill="#C0C0C0"/>
<rect x="670" y="525" width="1" height="33" fill="#C0C0C0"/>
<rect x="678" y="525" width="1" height="25" fill="#C0C0C0"/>
<rect x="686" y="525" width="1" height="17" fill="#C0C0C0"/>
<rect x="694" y="525" width="1" height="9" fill="#C0C0C0"/>
<rect x="702" y="525" width="1" height="3" fill="#C0C0C0"/>
<rect x="710" y="524" width="1" height="2" fill="#C0C0C0"/>
<rect x="718" y="525" width="1" height="1" fill="#C0C0C0"/>
<rect x="726" y="525" width="1" height="3" fill="#C0C0C0"/>
<rect x="734" y="525" width="1" height="4" fill="#C0C0C0"/>
<rect x="742" y="525" width="1" height="5" fill="#C0C0C0"/>
<rect x="750" y="525" width="1" height="6" fill="#C0C0C0"/>
<rect x="758" y="525" width="1" height="4" fill="#C0C0C0"/>
<rect x="766" y="525" width="1" height="3" fill="#C0C0C0"/>
<rect x="774" y="525" width="1" height="3" fill="#C0C0C0"/>
<rect x="782" y="525" width="1" height="4" fill="#C0C0C0"/>
<rect x="790" y="525" width="1" height="5" fill="#C0C0C0"/>
<rect x="798" y="525" width="1" height="8" fill="#C0C0C0"/>
<rect x="806" y="525" width="1" height="11" fill="#C0C0C0"/>
<rect x="814" y="525" width="1" height="15" fill="#C0C0C0"/>
<rect x="822" y="525" width="1" height="20" fill="#C0C0C0"/>
<rect x="830" y="525" width="1" height="23" fill="#C0C0C0"/>
<rect x="838" y="525" width="1" height="23" fill="#C0C0C0"/>
<rect x="846" y="525" width="1" height="23" fill="#C0C0C0"/>
<rect x="854" y="525" width="1" height="23" fill="#C0C0C0"/>
<rect x="862" y="525" width="1" height="28" fill="#C0C0C0"/>
<rect x="870" y="525" width="1" height="34" fill="#C0C0C0"/>
<rect x="878" y="525" width="1" height="39" fill="#C0C0C0"/>
<rect x="886" y="525" width="1" height="41" fill="#C0C0C0"/>
<rect x="894" y="525" width="1" height="39" fill="#C0C0C0"/>
<rect x="902" y="525" width="1" height="37" fill="#C0C0C0"/>
<rect x="910" y="525" width="1" height="33" fill="#C0C0C0"/>
<rect x="918" y="525" width="1" height="30" fill="#C0C0C0"/>
<rect x="926" y="525" width="1" height="27" fill="#C0C0C0"/>
<rect x="934" y="525" width="1" height="25" fill="#C0C0C0"/>
<rect x="942" y="525" width="1" height="24" fill="#C0C0C0"/>
<rect x="950" y="525" width="1" height="25" fill="#C0C0C0"/>
<rect x="958" y="525" width="1" height="30" fill="#C0C0C0"/>
<rect x="966" y="525" width="1" height="33" fill="#C0C0C0"/>
<rect x="974" y="525" width="1" height="37" fill="#C0C0C0"/>
<rect x="982" y="525" width="1" height="39" fill="#C0C0C0"/>
<rect x="990" y="525" width="1" height="41" fill="#C0C0C0"/>
<rect x="998" y="525" width="1" height="43" fill="#C0C0C0"/>
<rect x="1006" y="525" width="1" height="48" fill="#C0C0C0"/>
<rect x="1014" y="525" width="1" height="49" fill="#C0C0C0"/>
<rect x="1022" y="525" width="1" height="50" fill="#C0C0C0"/>
<rect x="1030" y="525" width="1" height="50" fill="#C0C0C0"/>
<rect x="1038" y="525" width="1" height="55" fill="#C0C0C0"/>
<rect x="1046" y="525" width="1" height="57" fill="#C0C0C0"/>
<rect x="1054" y="525" width="1" height="53" fill="#C0C0C0"/>
<rect x="1062" y="525" width="1" height="46" fill="#C0C0C0"/>
<rect x="1070" y="525" width="1" height="40" fill="#C0C0C0"/>
<rect x="1078" y="525" width="1" height="35" fill="#C0C0C0"/>
<rect x="1086" y="525" width="1" height="30" fill="#C0C0C0"/>
<rect x="1094" y="525" width="1" height="24" fill="#C0C0C0"/>
<rect x="1102" y="525" width="1" height="23" fill="#C0C0C0"/>
<rect x="1110" y="525" width="1" height="23" fill="#C0C0C0"/>
<rect x="1118" y="525" width="1" height="23" fill="#C0C0C0"/>
<rect x="1126" y="525" width="1" height="24" fill="#C0C0C0"/>
<rect x="1134" y="525" width="1" height="25" fill="#C0C0C0"/>
<rect x="1142" y="525" width="1" height="25" fill="#C0C0C0"/>
<rect x="1150" y="525" width="1" height="20" fill="#C0C0C0"/>
<rect x="1158" y="525" width="1" height="19" fill="#C0C0C0"/>
<rect x="1166" y="525" width="1" height="19" fill="#C0C0C0"/>
<rect x="1174" y="525" width="1" height="17" fill="#C0C0C0"/>
</g>
<g clip-path="url(#cmacd)" shape-rendering="crispEdges">
<path d="M6.5,487.0 L14.5,487.3" pathLength="8" fill="none" stroke="#FF0000" stroke-width="1" stroke-dasharray="3 3 2 0"/>
<path d="M14.5,487.3 L22.5,487.6" pathLength="8" fill="none" stroke="#FF0000" stroke-width="1" stroke-dasharray="3 3 2 0"/>
<path d="M22.5,487.6 L30.5,487.9" pathLength="8" fill="none" stroke="#FF0000" stroke-width="1" stroke-dasharray="3 3 2 0"/>
<path d="M30.5,487.9 L38.5,488.1" pathLength="8" fill="none" stroke="#FF0000" stroke-width="1" stroke-dasharray="3 3 2 0"/>
<path d="M38.5,488.1 L46.5,488.4" pathLength="8" fill="none" stroke="#FF0000" stroke-width="1" stroke-dasharray="3 3 2 0"/>
<path d="M46.5,488.4 L54.5,488.7" pathLength="8" fill="none" stroke="#FF0000" stroke-width="1" stroke-dasharray="3 3 2 0"/>
<path d="M54.5,488.7 L62.5,489.0" pathLength="8" fill="none" stroke="#FF0000" stroke-width="1" stroke-dasharray="3 3 2 0"/>
<path d="M62.5,489.0 L70.5,489.3" pathLength="8" fill="none" stroke="#FF0000" stroke-width="1" stroke-dasharray="3 3 2 0"/>
<path d="M70.5,489.3 L78.5,489.9" pathLength="8" fill="none" stroke="#FF0000" stroke-width="1" stroke-dasharray="3 3 2 0"/>
<path d="M78.5,489.9 L86.5,490.5" pathLength="8" fill="none" stroke="#FF0000" stroke-width="1" stroke-dasharray="3 3 2 0"/>
<path d="M86.5,490.5 L94.5,491.1" pathLength="8" fill="none" stroke="#FF0000" stroke-width="1" stroke-dasharray="3 3 2 0"/>
<path d="M94.5,491.1 L102.5,491.7" pathLength="8" fill="none" stroke="#FF0000" stroke-width="1" stroke-dasharray="3 3 2 0"/>
<path d="M102.5,491.7 L110.5,492.3" pathLength="8" fill="none" stroke="#FF0000" stroke-width="1" stroke-dasharray="3 3 2 0"/>
<path d="M110.5,492.3 L118.5,492.8" pathLength="8" fill="none" stroke="#FF0000" stroke-width="1" stroke-dasharray="3 3 2 0"/>
<path d="M118.5,492.8 L126.5,493.4" pathLength="8" fill="none" stroke="#FF0000" stroke-width="1" stroke-dasharray="3 3 2 0"/>
<path d="M126.5,493.4 L134.5,493.9" pathLength="8" fill="none" stroke="#FF0000" stroke-width="1" stroke-dasharray="3 3 2 0"/>
<path d="M134.5,493.9 L142.5,495.8" pathLength="8" fill="none" stroke="#FF0000" stroke-width="1" stroke-dasharray="3 3 2 0"/>
<path d="M142.5,495.8 L150.5,499.3" pathLength="8" fill="none" stroke="#FF0000" stroke-width="1" stroke-dasharray="3 3 2 0"/>
<path d="M150.5,499.3 L158.5,503.7" pathLength="8" fill="none" stroke="#FF0000" stroke-width="1" stroke-dasharray="3 3 2 0"/>
<path d="M158.5,503.7 L166.5,508.1" pathLength="8" fill="none" stroke="#FF0000" stroke-width="1" stroke-dasharray="3 3 2 0"/>
<path d="M166.5,508.1 L174.5,513.1" pathLength="8" fill="none" stroke="#FF0000" stroke-width="1" stroke-dasharray="3 3 2 0"/>
<path d="M174.5,513.1 L182.5,518.3" pathLength="8" fill="none" stroke="#FF0000" stroke-width="1" stroke-dasharray="3 3 2 0"/>
<path d="M182.5,518.3 L190.5,523.5" pathLength="8" fill="none" stroke="#FF0000" stroke-width="1" stroke-dasharray="3 3 2 0"/>
<path d="M190.5,523.5 L198.5,528.0" pathLength="8" fill="none" stroke="#FF0000" stroke-width="1" stroke-dasharray="3 3 2 0"/>
<path d="M198.5,528.0 L206.5,532.0" pathLength="8" fill="none" stroke="#FF0000" stroke-width="1" stroke-dasharray="3 3 2 0"/>
<path d="M206.5,532.0 L214.5,536.0" pathLength="8" fill="none" stroke="#FF0000" stroke-width="1" stroke-dasharray="3 3 2 0"/>
<path d="M214.5,536.0 L222.5,540.0" pathLength="8" fill="none" stroke="#FF0000" stroke-width="1" stroke-dasharray="3 3 2 0"/>
<path d="M222.5,540.0 L230.5,542.0" pathLength="8" fill="none" stroke="#FF0000" stroke-width="1" stroke-dasharray="3 3 2 0"/>
<path d="M230.5,542.0 L238.5,543.9" pathLength="8" fill="none" stroke="#FF0000" stroke-width="1" stroke-dasharray="3 3 2 0"/>
<path d="M238.5,543.9 L246.5,545.1" pathLength="8" fill="none" stroke="#FF0000" stroke-width="1" stroke-dasharray="3 3 2 0"/>
<path d="M246.5,545.1 L254.5,545.4" pathLength="8" fill="none" stroke="#FF0000" stroke-width="1" stroke-dasharray="3 3 2 0"/>
<path d="M254.5,545.4 L262.5,545.8" pathLength="8" fill="none" stroke="#FF0000" stroke-width="1" stroke-dasharray="3 3 2 0"/>
<path d="M262.5,545.8 L270.5,546.1" pathLength="8" fill="none" stroke="#FF0000" stroke-width="1" stroke-dasharray="3 3 2 0"/>
<path d="M270.5,546.1 L278.5,546.5" pathLength="8" fill="none" stroke="#FF0000" stroke-width="1" stroke-dasharray="3 3 2 0"/>
<path d="M278.5,546.5 L286.5,546.8" pathLength="8" fill="none" stroke="#FF0000" stroke-width="1" stroke-dasharray="3 3 2 0"/>
<path d="M286.5,546.8 L294.5,547.2" pathLength="8" fill="none" stroke="#FF0000" stroke-width="1" stroke-dasharray="3 3 2 0"/>
<path d="M294.5,547.2 L302.5,548.0" pathLength="8" fill="none" stroke="#FF0000" stroke-width="1" stroke-dasharray="3 3 2 0"/>
<path d="M302.5,548.0 L310.5,549.1" pathLength="8" fill="none" stroke="#FF0000" stroke-width="1" stroke-dasharray="3 3 2 0"/>
<path d="M310.5,549.1 L318.5,550.3" pathLength="8" fill="none" stroke="#FF0000" stroke-width="1" stroke-dasharray="3 3 2 0"/>
<path d="M318.5,550.3 L326.5,553.5" pathLength="8" fill="none" stroke="#FF0000" stroke-width="1" stroke-dasharray="3 3 2 0"/>
<path d="M326.5,553.5 L334.5,557.0" pathLength="8" fill="none" stroke="#FF0000" stroke-width="1" stroke-dasharray="3 3 2 0"/>
<path d="M334.5,557.0 L342.5,560.5" pathLength="8" fill="none" stroke="#FF0000" stroke-width="1" stroke-dasharray="3 3 2 0"/>
<path d="M342.5,560.5 L350.5,564.0" pathLength="8" fill="none" stroke="#FF0000" stroke-width="1" stroke-dasharray="3 3 2 0"/>
<path d="M350.5,564.0 L358.5,567.7" pathLength="8" fill="none" stroke="#FF0000" stroke-width="1" stroke-dasharray="3 3 2 0"/>
<path d="M358.5,567.7 L366.5,571.4" pathLength="8" fill="none" stroke="#FF0000" stroke-width="1" stroke-dasharray="3 3 2 0"/>
<path d="M366.5,571.4 L374.5,575.1" pathLength="8" fill="none" stroke="#FF0000" stroke-width="1" stroke-dasharray="3 3 2 0"/>
<path d="M374.5,575.1 L382.5,578.7" pathLength="8" fill="none" stroke="#FF0000" stroke-width="1" stroke-dasharray="3 3 2 0"/>
<path d="M382.5,578.7 L390.5,579.8" pathLength="8" fill="none" stroke="#FF0000" stroke-width="1" stroke-dasharray="3 3 2 0"/>
<path d="M390.5,579.8 L398.5,580.8" pathLength="8" fill="none" stroke="#FF0000" stroke-width="1" stroke-dasharray="3 3 2 0"/>
<path d="M398.5,580.8 L406.5,581.9" pathLength="8" fill="none" stroke="#FF0000" stroke-width="1" stroke-dasharray="3 3 2 0"/>
<path d="M406.5,581.9 L414.5,581.0" pathLength="8" fill="none" stroke="#FF0000" stroke-width="1" stroke-dasharray="3 3 2 0"/>
<path d="M414.5,581.0 L422.5,580.1" pathLength="8" fill="none" stroke="#FF0000" stroke-width="1" stroke-dasharray="3 3 2 0"/>
<path d="M422.5,580.1 L430.5,579.2" pathLength="8" fill="none" stroke="#FF0000" stroke-width="1" stroke-dasharray="3 3 2 0"/>
<path d="M430.5,579.2 L438.5,578.3" pathLength="8" fill="none" stroke="#FF0000" stroke-width="1" stroke-dasharray="3 3 2 0"/>
<path d="M438.5,578.3 L446.5,577.4" pathLength="8" fill="none" stroke="#FF0000" stroke-width="1" stroke-dasharray="3 3 2 0"/>
<path d="M446.5,577.4 L454.5,576.9" pathLength="8" fill="none" stroke="#FF0000" stroke-width="1" stroke-dasharray="3 3 2 0"/>
<path d="M454.5,576.9 L462.5,576.5" pathLength="8" fill="none" stroke="#FF0000" stroke-width="1" stroke-dasharray="3 3 2 0"/>
<path d="M462.5,576.5 L470.5,576.0" pathLength="8" fill="none" stroke="#FF0000" stroke-width="1" stroke-dasharray="3 3 2 0"/>
<path d="M470.5,576.0 L478.5,575.5" pathLength="8" fill="none" stroke="#FF0000" stroke-width="1" stroke-dasharray="3 3 2 0"/>
<path d="M478.5,575.5 L486.5,575.0" pathLength="8" fill="none" stroke="#FF0000" stroke-width="1" stroke-dasharray="3 3 2 0"/>
<path d="M486.5,575.0 L494.5,574.2" pathLength="8" fill="none" stroke="#FF0000" stroke-width="1" stroke-dasharray="3 3 2 0"/>
<path d="M494.5,574.2 L502.5,571.1" pathLength="8" fill="none" stroke="#FF0000" stroke-width="1" stroke-dasharray="3 3 2 0"/>
<path d="M502.5,571.1 L510.5,567.5" pathLength="8" fill="none" stroke="#FF0000" stroke-width="1" stroke-dasharray="3 3 2 0"/>
<path d="M510.5,567.5 L518.5,562.8" pathLength="8" fill="none" stroke="#FF0000" stroke-width="1" stroke-dasharray="3 3 2 0"/>
<path d="M518.5,562.8 L526.5,558.0" pathLength="8" fill="none" stroke="#FF0000" stroke-width="1" stroke-dasharray="3 3 2 0"/>
<path d="M526.5,558.0 L534.5,553.7" pathLength="8" fill="none" stroke="#FF0000" stroke-width="1" stroke-dasharray="3 3 2 0"/>
<path d="M534.5,553.7 L542.5,550.5" pathLength="8" fill="none" stroke="#FF0000" stroke-width="1" stroke-dasharray="3 3 2 0"/>
<path d="M542.5,550.5 L550.5,547.3" pathLength="8" fill="none" stroke="#FF0000" stroke-width="1" stroke-dasharray="3 3 2 0"/>
<path d="M550.5,547.3 L558.5,544.6" pathLength="8" fill="none" stroke="#FF0000" stroke-width="1" stroke-dasharray="3 3 2 0"/>
<path d="M558.5,544.6 L566.5,543.2" pathLength="8" fill="none" stroke="#FF0000" stroke-width="1" stroke-dasharray="3 3 2 0"/>
<path d="M566.5,543.2 L574.5,541.9" pathLength="8" fill="none" stroke="#FF0000" stroke-width="1" stroke-dasharray="3 3 2 0"/>
<path d="M574.5,541.9 L582.5,543.5" pathLength="8" fill="none" stroke="#FF0000" stroke-width="1" stroke-dasharray="3 3 2 0"/>
<path d="M582.5,543.5 L590.5,545.6" pathLength="8" fill="none" stroke="#FF0000" stroke-width="1" stroke-dasharray="3 3 2 0"/>
<path d="M590.5,545.6 L598.5,549.8" pathLength="8" fill="none" stroke="#FF0000" stroke-width="1" stroke-dasharray="3 3 2 0"/>
<path d="M598.5,549.8 L606.5,553.8" pathLength="8" fill="none" stroke="#FF0000" stroke-width="1" stroke-dasharray="3 3 2 0"/>
<path d="M606.5,553.8 L614.5,557.6" pathLength="8" fill="none" stroke="#FF0000" stroke-width="1" stroke-dasharray="3 3 2 0"/>
<path d="M614.5,557.6 L622.5,561.4" pathLength="8" fill="none" stroke="#FF0000" stroke-width="1" stroke-dasharray="3 3 2 0"/>
<path d="M622.5,561.4 L630.5,564.6" pathLength="8" fill="none" stroke="#FF0000" stroke-width="1" stroke-dasharray="3 3 2 0"/>
<path d="M630.5,564.6 L638.5,566.1" pathLength="8" fill="none" stroke="#FF0000" stroke-width="1" stroke-dasharray="3 3 2 0"/>
<path d="M638.5,566.1 L646.5,567.4" pathLength="8" fill="none" stroke="#FF0000" stroke-width="1" stroke-dasharray="3 3 2 0"/>
<path d="M646.5,567.4 L654.5,567.1" pathLength="8" fill="none" stroke="#FF0000" stroke-width="1" stroke-dasharray="3 3 2 0"/>
<path d="M654.5,567.1 L662.5,566.8" pathLength="8" fill="none" stroke="#FF0000" stroke-width="1" stroke-dasharray="3 3 2 0"/>
<path d="M662.5,566.8 L670.5,566.4" pathLength="8" fill="none" stroke="#FF0000" stroke-width="1" stroke-dasharray="3 3 2 0"/>
<path d="M670.5,566.4 L678.5,563.4" pathLength="8" fill="none" stroke="#FF0000" stroke-width="1" stroke-dasharray="3 3 2 0"/>
<path d="M678.5,563.4 L686.5,560.4" pathLength="8" fill="none" stroke="#FF0000" stroke-width="1" stroke-dasharray="3 3 2 0"/>
<path d="M686.5,560.4 L694.5,556.5" pathLength="8" fill="none" stroke="#FF0000" stroke-width="1" stroke-dasharray="3 3 2 0"/>
<path d="M694.5,556.5 L702.5,552.1" pathLength="8" fill="none" stroke="#FF0000" stroke-width="1" stroke-dasharray="3 3 2 0"/>
<path d="M702.5,552.1 L710.5,547.6" pathLength="8" fill="none" stroke="#FF0000" stroke-width="1" stroke-dasharray="3 3 2 0"/>
<path d="M710.5,547.6 L718.5,543.2" pathLength="8" fill="none" stroke="#FF0000" stroke-width="1" stroke-dasharray="3 3 2 0"/>
<path d="M718.5,543.2 L726.5,539.0" pathLength="8" fill="none" stroke="#FF0000" stroke-width="1" stroke-dasharray="3 3 2 0"/>
<path d="M726.5,539.0 L734.5,536.3" pathLength="8" fill="none" stroke="#FF0000" stroke-width="1" stroke-dasharray="3 3 2 0"/>
<path d="M734.5,536.3 L742.5,533.5" pathLength="8" fill="none" stroke="#FF0000" stroke-width="1" stroke-dasharray="3 3 2 0"/>
<path d="M742.5,533.5 L750.5,531.0" pathLength="8" fill="none" stroke="#FF0000" stroke-width="1" stroke-dasharray="3 3 2 0"/>
<path d="M750.5,531.0 L758.5,529.7" pathLength="8" fill="none" stroke="#FF0000" stroke-width="1" stroke-dasharray="3 3 2 0"/>
<path d="M758.5,529.7 L766.5,529.3" pathLength="8" fill="none" stroke="#FF0000" stroke-width="1" stroke-dasharray="3 3 2 0"/>
<path d="M766.5,529.3 L774.5,529.4" pathLength="8" fill="none" stroke="#FF0000" stroke-width="1" stroke-dasharray="3 3 2 0"/>
<path d="M774.5,529.4 L782.5,529.6" pathLength="8" fill="none" stroke="#FF0000" stroke-width="1" stroke-dasharray="3 3 2 0"/>
<path d="M782.5,529.6 L790.5,529.7" pathLength="8" fill="none" stroke="#FF0000" stroke-width="1" stroke-dasharray="3 3 2 0"/>
<path d="M790.5,529.7 L798.5,530.6" pathLength="8" fill="none" stroke="#FF0000" stroke-width="1" stroke-dasharray="3 3 2 0"/>
<path d="M798.5,530.6 L806.5,531.6" pathLength="8" fill="none" stroke="#FF0000" stroke-width="1" stroke-dasharray="3 3 2 0"/>
<path d="M806.5,531.6 L814.5,532.6" pathLength="8" fill="none" stroke="#FF0000" stroke-width="1" stroke-dasharray="3 3 2 0"/>
<path d="M814.5,532.6 L822.5,533.6" pathLength="8" fill="none" stroke="#FF0000" stroke-width="1" stroke-dasharray="3 3 2 0"/>
<path d="M822.5,533.6 L830.5,536.0" pathLength="8" fill="none" stroke="#FF0000" stroke-width="1" stroke-dasharray="3 3 2 0"/>
<path d="M830.5,536.0 L838.5,538.4" pathLength="8" fill="none" stroke="#FF0000" stroke-width="1" stroke-dasharray="3 3 2 0"/>
<path d="M838.5,538.4 L846.5,540.8" pathLength="8" fill="none" stroke="#FF0000" stroke-width="1" stroke-dasharray="3 3 2 0"/>
<path d="M846.5,540.8 L854.5,543.5" pathLength="8" fill="none" stroke="#FF0000" stroke-width="1" stroke-dasharray="3 3 2 0"/>
<path d="M854.5,543.5 L862.5,546.1" pathLength="8" fill="none" stroke="#FF0000" stroke-width="1" stroke-dasharray="3 3 2 0"/>
<path d="M862.5,546.1 L870.5,548.8" pathLength="8" fill="none" stroke="#FF0000" stroke-width="1" stroke-dasharray="3 3 2 0"/>
<path d="M870.5,548.8 L878.5,551.4" pathLength="8" fill="none" stroke="#FF0000" stroke-width="1" stroke-dasharray="3 3 2 0"/>
<path d="M878.5,551.4 L886.5,554.1" pathLength="8" fill="none" stroke="#FF0000" stroke-width="1" stroke-dasharray="3 3 2 0"/>
<path d="M886.5,554.1 L894.5,556.6" pathLength="8" fill="none" stroke="#FF0000" stroke-width="1" stroke-dasharray="3 3 2 0"/>
<path d="M894.5,556.6 L902.5,557.3" pathLength="8" fill="none" stroke="#FF0000" stroke-width="1" stroke-dasharray="3 3 2 0"/>
<path d="M902.5,557.3 L910.5,558.0" pathLength="8" fill="none" stroke="#FF0000" stroke-width="1" stroke-dasharray="3 3 2 0"/>
<path d="M910.5,558.0 L918.5,558.7" pathLength="8" fill="none" stroke="#FF0000" stroke-width="1" stroke-dasharray="3 3 2 0"/>
<path d="M918.5,558.7 L926.5,558.8" pathLength="8" fill="none" stroke="#FF0000" stroke-width="1" stroke-dasharray="3 3 2 0"/>
<path d="M926.5,558.8 L934.5,558.4" pathLength="8" fill="none" stroke="#FF0000" stroke-width="1" stroke-dasharray="3 3 2 0"/>
<path d="M934.5,558.4 L942.5,558.0" pathLength="8" fill="none" stroke="#FF0000" stroke-width="1" stroke-dasharray="3 3 2 0"/>
<path d="M942.5,558.0 L950.5,557.0" pathLength="8" fill="none" stroke="#FF0000" stroke-width="1" stroke-dasharray="3 3 2 0"/>
<path d="M950.5,557.0 L958.5,555.9" pathLength="8" fill="none" stroke="#FF0000" stroke-width="1" stroke-dasharray="3 3 2 0"/>
<path d="M958.5,555.9 L966.5,554.8" pathLength="8" fill="none" stroke="#FF0000" stroke-width="1" stroke-dasharray="3 3 2 0"/>
<path d="M966.5,554.8 L974.5,554.0" pathLength="8" fill="none" stroke="#FF0000" stroke-width="1" stroke-dasharray="3 3 2 0"/>
<path d="M974.5,554.0 L982.5,555.0" pathLength="8" fill="none" stroke="#FF0000" stroke-width="1" stroke-dasharray="3 3 2 0"/>
<path d="M982.5,555.0 L990.5,556.0" pathLength="8" fill="none" stroke="#FF0000" stroke-width="1" stroke-dasharray="3 3 2 0"/>
<path d="M990.5,556.0 L998.5,558.0" pathLength="8" fill="none" stroke="#FF0000" stroke-width="1" stroke-dasharray="3 3 2 0"/>
<path d="M998.5,558.0 L1006.5,560.8" pathLength="8" fill="none" stroke="#FF0000" stroke-width="1" stroke-dasharray="3 3 2 0"/>
<path d="M1006.5,560.8 L1014.5,563.6" pathLength="8" fill="none" stroke="#FF0000" stroke-width="1" stroke-dasharray="3 3 2 0"/>
<path d="M1014.5,563.6 L1022.5,566.4" pathLength="8" fill="none" stroke="#FF0000" stroke-width="1" stroke-dasharray="3 3 2 0"/>
<path d="M1022.5,566.4 L1030.5,569.2" pathLength="8" fill="none" stroke="#FF0000" stroke-width="1" stroke-dasharray="3 3 2 0"/>
<path d="M1030.5,569.2 L1038.5,571.9" pathLength="8" fill="none" stroke="#FF0000" stroke-width="1" stroke-dasharray="3 3 2 0"/>
<path d="M1038.5,571.9 L1046.5,574.6" pathLength="8" fill="none" stroke="#FF0000" stroke-width="1" stroke-dasharray="3 3 2 0"/>
<path d="M1046.5,574.6 L1054.5,575.2" pathLength="8" fill="none" stroke="#FF0000" stroke-width="1" stroke-dasharray="3 3 2 0"/>
<path d="M1054.5,575.2 L1062.5,575.9" pathLength="8" fill="none" stroke="#FF0000" stroke-width="1" stroke-dasharray="3 3 2 0"/>
<path d="M1062.5,575.9 L1070.5,575.0" pathLength="8" fill="none" stroke="#FF0000" stroke-width="1" stroke-dasharray="3 3 2 0"/>
<path d="M1070.5,575.0 L1078.5,573.7" pathLength="8" fill="none" stroke="#FF0000" stroke-width="1" stroke-dasharray="3 3 2 0"/>
<path d="M1078.5,573.7 L1086.5,572.4" pathLength="8" fill="none" stroke="#FF0000" stroke-width="1" stroke-dasharray="3 3 2 0"/>
<path d="M1086.5,572.4 L1094.5,569.8" pathLength="8" fill="none" stroke="#FF0000" stroke-width="1" stroke-dasharray="3 3 2 0"/>
<path d="M1094.5,569.8 L1102.5,566.2" pathLength="8" fill="none" stroke="#FF0000" stroke-width="1" stroke-dasharray="3 3 2 0"/>
<path d="M1102.5,566.2 L1110.5,562.6" pathLength="8" fill="none" stroke="#FF0000" stroke-width="1" stroke-dasharray="3 3 2 0"/>
<path d="M1110.5,562.6 L1118.5,559.0" pathLength="8" fill="none" stroke="#FF0000" stroke-width="1" stroke-dasharray="3 3 2 0"/>
<path d="M1118.5,559.0 L1126.5,555.4" pathLength="8" fill="none" stroke="#FF0000" stroke-width="1" stroke-dasharray="3 3 2 0"/>
<path d="M1126.5,555.4 L1134.5,553.4" pathLength="8" fill="none" stroke="#FF0000" stroke-width="1" stroke-dasharray="3 3 2 0"/>
<path d="M1134.5,553.4 L1142.5,551.8" pathLength="8" fill="none" stroke="#FF0000" stroke-width="1" stroke-dasharray="3 3 2 0"/>
<path d="M1142.5,551.8 L1150.5,550.2" pathLength="8" fill="none" stroke="#FF0000" stroke-width="1" stroke-dasharray="3 3 2 0"/>
<path d="M1150.5,550.2 L1158.5,549.0" pathLength="8" fill="none" stroke="#FF0000" stroke-width="1" stroke-dasharray="3 3 2 0"/>
<path d="M1158.5,549.0 L1166.5,547.9" pathLength="8" fill="none" stroke="#FF0000" stroke-width="1" stroke-dasharray="3 3 2 0"/>
<path d="M1166.5,547.9 L1174.5,546.9" pathLength="8" fill="none" stroke="#FF0000" stroke-width="1" stroke-dasharray="3 3 2 0"/>
</g>
<g font-family="Liberation Sans, sans-serif">
<text x="9.7" y="489.05" textLength="123.3" lengthAdjust="spacingAndGlyphs" fill="#000" stroke="#000" stroke-width="0.3" font-size="9.75">MACD(12,26,9) -4.585 -5.768</text>
</g>
<g shape-rendering="crispEdges">
<rect x="1194" y="478" width="1" height="1" fill="#000"/>
<rect x="1194" y="525" width="1" height="1" fill="#000"/>
<rect x="1194" y="590" width="1" height="1" fill="#000"/>
</g>
<g font-family="Liberation Sans, sans-serif">
<text x="1198" y="488.05" textLength="26.0" lengthAdjust="spacingAndGlyphs" fill="#000" stroke="#000" stroke-width="0.3" font-size="9.75">12.395</text>
<text x="1197" y="529.05" textLength="17.0" lengthAdjust="spacingAndGlyphs" fill="#000" stroke="#000" stroke-width="0.3" font-size="9.75">0.00</text>
<text x="1197" y="588.05" textLength="30.0" lengthAdjust="spacingAndGlyphs" fill="#000" stroke="#000" stroke-width="0.3" font-size="9.75">-17.215</text>
</g>
<g clip-path="url(#crsi)" shape-rendering="crispEdges">
<line x1="7" y1="616.5" x2="1193" y2="616.5" stroke="#C0C0C0" stroke-width="1" stroke-dasharray="3 3"/>
<line x1="7" y1="645.5" x2="1193" y2="645.5" stroke="#C0C0C0" stroke-width="1" stroke-dasharray="3 3"/>
<polyline points="6.5,617.0 14.5,620.1 22.5,618.7 30.5,618.2 38.5,627.4 46.5,624.2 54.5,623.0 62.5,617.0 70.5,619.4 78.5,616.2 86.5,616.2 94.5,618.2 102.5,627.4 110.5,627.4 118.5,625.9 126.5,627.4 134.5,625.9 142.5,638.7 150.5,642.3 158.5,641.1 166.5,643.6 174.5,642.8 182.5,637.5 190.5,638.7 198.5,633.2 206.5,634.6 214.5,637.5 222.5,637.5 230.5,642.3 238.5,641.1 246.5,633.9 254.5,633.9 262.5,633.9 270.5,633.9 278.5,641.1 286.5,639.4 294.5,641.1 302.5,641.1 310.5,644.3 318.5,647.2 326.5,649.1 334.5,652.0 342.5,650.1 350.5,649.1 358.5,647.7 366.5,648.4 374.5,643.6 382.5,644.3 390.5,644.3 398.5,640.4 406.5,643.6 414.5,643.6 422.5,641.1 430.5,646.0 438.5,645.2 446.5,646.0 454.5,648.4 462.5,643.6 470.5,642.3 478.5,642.3 486.5,635.6 494.5,635.6 502.5,630.7 510.5,624.2 518.5,623.5 526.5,629.0 534.5,629.8 542.5,634.6 550.5,638.0 558.5,639.4 566.5,642.3 574.5,643.6 582.5,646.0 590.5,645.2 598.5,645.2 606.5,647.2 614.5,641.9 622.5,637.5 630.5,639.4 638.5,638.7 646.5,639.4 654.5,636.3 662.5,637.0 670.5,637.0 678.5,627.8 686.5,624.2 694.5,622.5 702.5,624.9 710.5,624.2 718.5,633.9 726.5,633.2 734.5,634.6 742.5,633.2 750.5,634.6 758.5,630.3 766.5,628.3 774.5,630.3 782.5,631.5 790.5,634.6 798.5,636.3 806.5,639.4 814.5,639.4 822.5,642.3 830.5,641.1 838.5,635.6 846.5,637.5 854.5,637.5 862.5,642.3 870.5,644.3 878.5,645.6 886.5,644.3 894.5,637.3 902.5,635.8 910.5,635.3 918.5,634.0 926.5,634.0 934.5,634.0 942.5,635.3 950.5,639.1 958.5,641.7 966.5,645.6 974.5,646.9 982.5,644.3 990.5,644.3 998.5,646.9 1006.5,648.7 1014.5,646.9 1022.5,645.1 1030.5,646.9 1038.5,650.7 1046.5,646.9 1054.5,639.1 1062.5,632.7 1070.5,632.7 1078.5,633.2 1086.5,633.2 1094.5,628.0 1102.5,634.0 1110.5,635.3 1118.5,635.8 1126.5,638.4 1134.5,635.3 1142.5,637.3 1150.5,630.1 1158.5,633.2 1166.5,633.2 1174.5,633.2" fill="none" stroke="#1E90FF" stroke-width="1" />
</g>
<g shape-rendering="crispEdges">
<rect x="1194" y="595" width="1" height="1" fill="#000"/>
<rect x="1194" y="666" width="1" height="1" fill="#000"/>
</g>
<g font-family="Liberation Sans, sans-serif">
<text x="9.7" y="606.05" textLength="67.2" lengthAdjust="spacingAndGlyphs" fill="#000" stroke="#000" stroke-width="0.3" font-size="9.75">RSI(14) 46.5033</text>
<text x="1198" y="604.05" textLength="13.0" lengthAdjust="spacingAndGlyphs" fill="#000" stroke="#000" stroke-width="0.3" font-size="9.75">100</text>
<text x="1196" y="620.05" textLength="9.0" lengthAdjust="spacingAndGlyphs" fill="#000" stroke="#000" stroke-width="0.3" font-size="9.75">70</text>
<text x="1196" y="649.05" textLength="9.0" lengthAdjust="spacingAndGlyphs" fill="#000" stroke="#000" stroke-width="0.3" font-size="9.75">30</text>
<text x="1197" y="664.05" textLength="4.0" lengthAdjust="spacingAndGlyphs" fill="#000" stroke="#000" stroke-width="0.3" font-size="9.75">0</text>
</g>
<g shape-rendering="crispEdges">
<rect x="6" y="668" width="1" height="3" fill="#000"/>
<rect x="70" y="668" width="1" height="3" fill="#000"/>
<rect x="134" y="668" width="1" height="3" fill="#000"/>
<rect x="198" y="668" width="1" height="3" fill="#000"/>
<rect x="262" y="668" width="1" height="3" fill="#000"/>
<rect x="326" y="668" width="1" height="3" fill="#000"/>
<rect x="390" y="668" width="1" height="3" fill="#000"/>
<rect x="454" y="668" width="1" height="3" fill="#000"/>
<rect x="518" y="668" width="1" height="3" fill="#000"/>
<rect x="582" y="668" width="1" height="3" fill="#000"/>
<rect x="646" y="668" width="1" height="3" fill="#000"/>
<rect x="710" y="668" width="1" height="3" fill="#000"/>
<rect x="774" y="668" width="1" height="3" fill="#000"/>
<rect x="838" y="668" width="1" height="3" fill="#000"/>
<rect x="902" y="668" width="1" height="3" fill="#000"/>
<rect x="966" y="668" width="1" height="3" fill="#000"/>
<rect x="1030" y="668" width="1" height="3" fill="#000"/>
<rect x="1094" y="668" width="1" height="3" fill="#000"/>
<rect x="1158" y="668" width="1" height="3" fill="#000"/>
</g>
<g font-family="Liberation Sans, sans-serif">
<text x="5.4" y="680.05" textLength="49.6" lengthAdjust="spacingAndGlyphs" fill="#000" stroke="#000" stroke-width="0.3" font-size="9.75">13 Apr 2022</text>
<text x="69.4" y="680.05" textLength="53.2" lengthAdjust="spacingAndGlyphs" fill="#000" stroke="#000" stroke-width="0.3" font-size="9.75">18 Apr 00:00</text>
<text x="133.4" y="680.05" textLength="53.2" lengthAdjust="spacingAndGlyphs" fill="#000" stroke="#000" stroke-width="0.3" font-size="9.75">19 Apr 08:00</text>
<text x="197.4" y="680.05" textLength="53.2" lengthAdjust="spacingAndGlyphs" fill="#000" stroke="#000" stroke-width="0.3" font-size="9.75">20 Apr 16:00</text>
<text x="261.4" y="680.05" textLength="53.2" lengthAdjust="spacingAndGlyphs" fill="#000" stroke="#000" stroke-width="0.3" font-size="9.75">22 Apr 00:00</text>
<text x="325.4" y="680.05" textLength="53.2" lengthAdjust="spacingAndGlyphs" fill="#000" stroke="#000" stroke-width="0.3" font-size="9.75">25 Apr 08:00</text>
<text x="389.4" y="680.05" textLength="53.2" lengthAdjust="spacingAndGlyphs" fill="#000" stroke="#000" stroke-width="0.3" font-size="9.75">26 Apr 16:00</text>
<text x="453.4" y="680.05" textLength="53.2" lengthAdjust="spacingAndGlyphs" fill="#000" stroke="#000" stroke-width="0.3" font-size="9.75">28 Apr 00:00</text>
<text x="517.4" y="680.05" textLength="53.2" lengthAdjust="spacingAndGlyphs" fill="#000" stroke="#000" stroke-width="0.3" font-size="9.75">29 Apr 08:00</text>
<text x="581.4" y="680.05" textLength="53.0" lengthAdjust="spacingAndGlyphs" fill="#000" stroke="#000" stroke-width="0.3" font-size="9.75">2 May 16:00</text>
<text x="645.4" y="680.05" textLength="53.0" lengthAdjust="spacingAndGlyphs" fill="#000" stroke="#000" stroke-width="0.3" font-size="9.75">4 May 00:00</text>
<text x="709.4" y="680.05" textLength="53.0" lengthAdjust="spacingAndGlyphs" fill="#000" stroke="#000" stroke-width="0.3" font-size="9.75">5 May 08:00</text>
<text x="773.4" y="680.05" textLength="53.0" lengthAdjust="spacingAndGlyphs" fill="#000" stroke="#000" stroke-width="0.3" font-size="9.75">6 May 16:00</text>
<text x="837.4" y="680.05" textLength="57.1" lengthAdjust="spacingAndGlyphs" fill="#000" stroke="#000" stroke-width="0.3" font-size="9.75">10 May 00:00</text>
<text x="901.4" y="680.05" textLength="56.5" lengthAdjust="spacingAndGlyphs" fill="#000" stroke="#000" stroke-width="0.3" font-size="9.75">11 May 08:00</text>
<text x="965.4" y="680.05" textLength="57.1" lengthAdjust="spacingAndGlyphs" fill="#000" stroke="#000" stroke-width="0.3" font-size="9.75">12 May 16:00</text>
<text x="1029.4" y="680.05" textLength="57.1" lengthAdjust="spacingAndGlyphs" fill="#000" stroke="#000" stroke-width="0.3" font-size="9.75">16 May 00:00</text>
<text x="1093.4" y="680.05" textLength="57.1" lengthAdjust="spacingAndGlyphs" fill="#000" stroke="#000" stroke-width="0.3" font-size="9.75">17 May 08:00</text>
<text x="1157.4" y="680.05" textLength="57.1" lengthAdjust="spacingAndGlyphs" fill="#000" stroke="#000" stroke-width="0.3" font-size="9.75">18 May 16:00</text>
</g>
</svg>
</body></html>
